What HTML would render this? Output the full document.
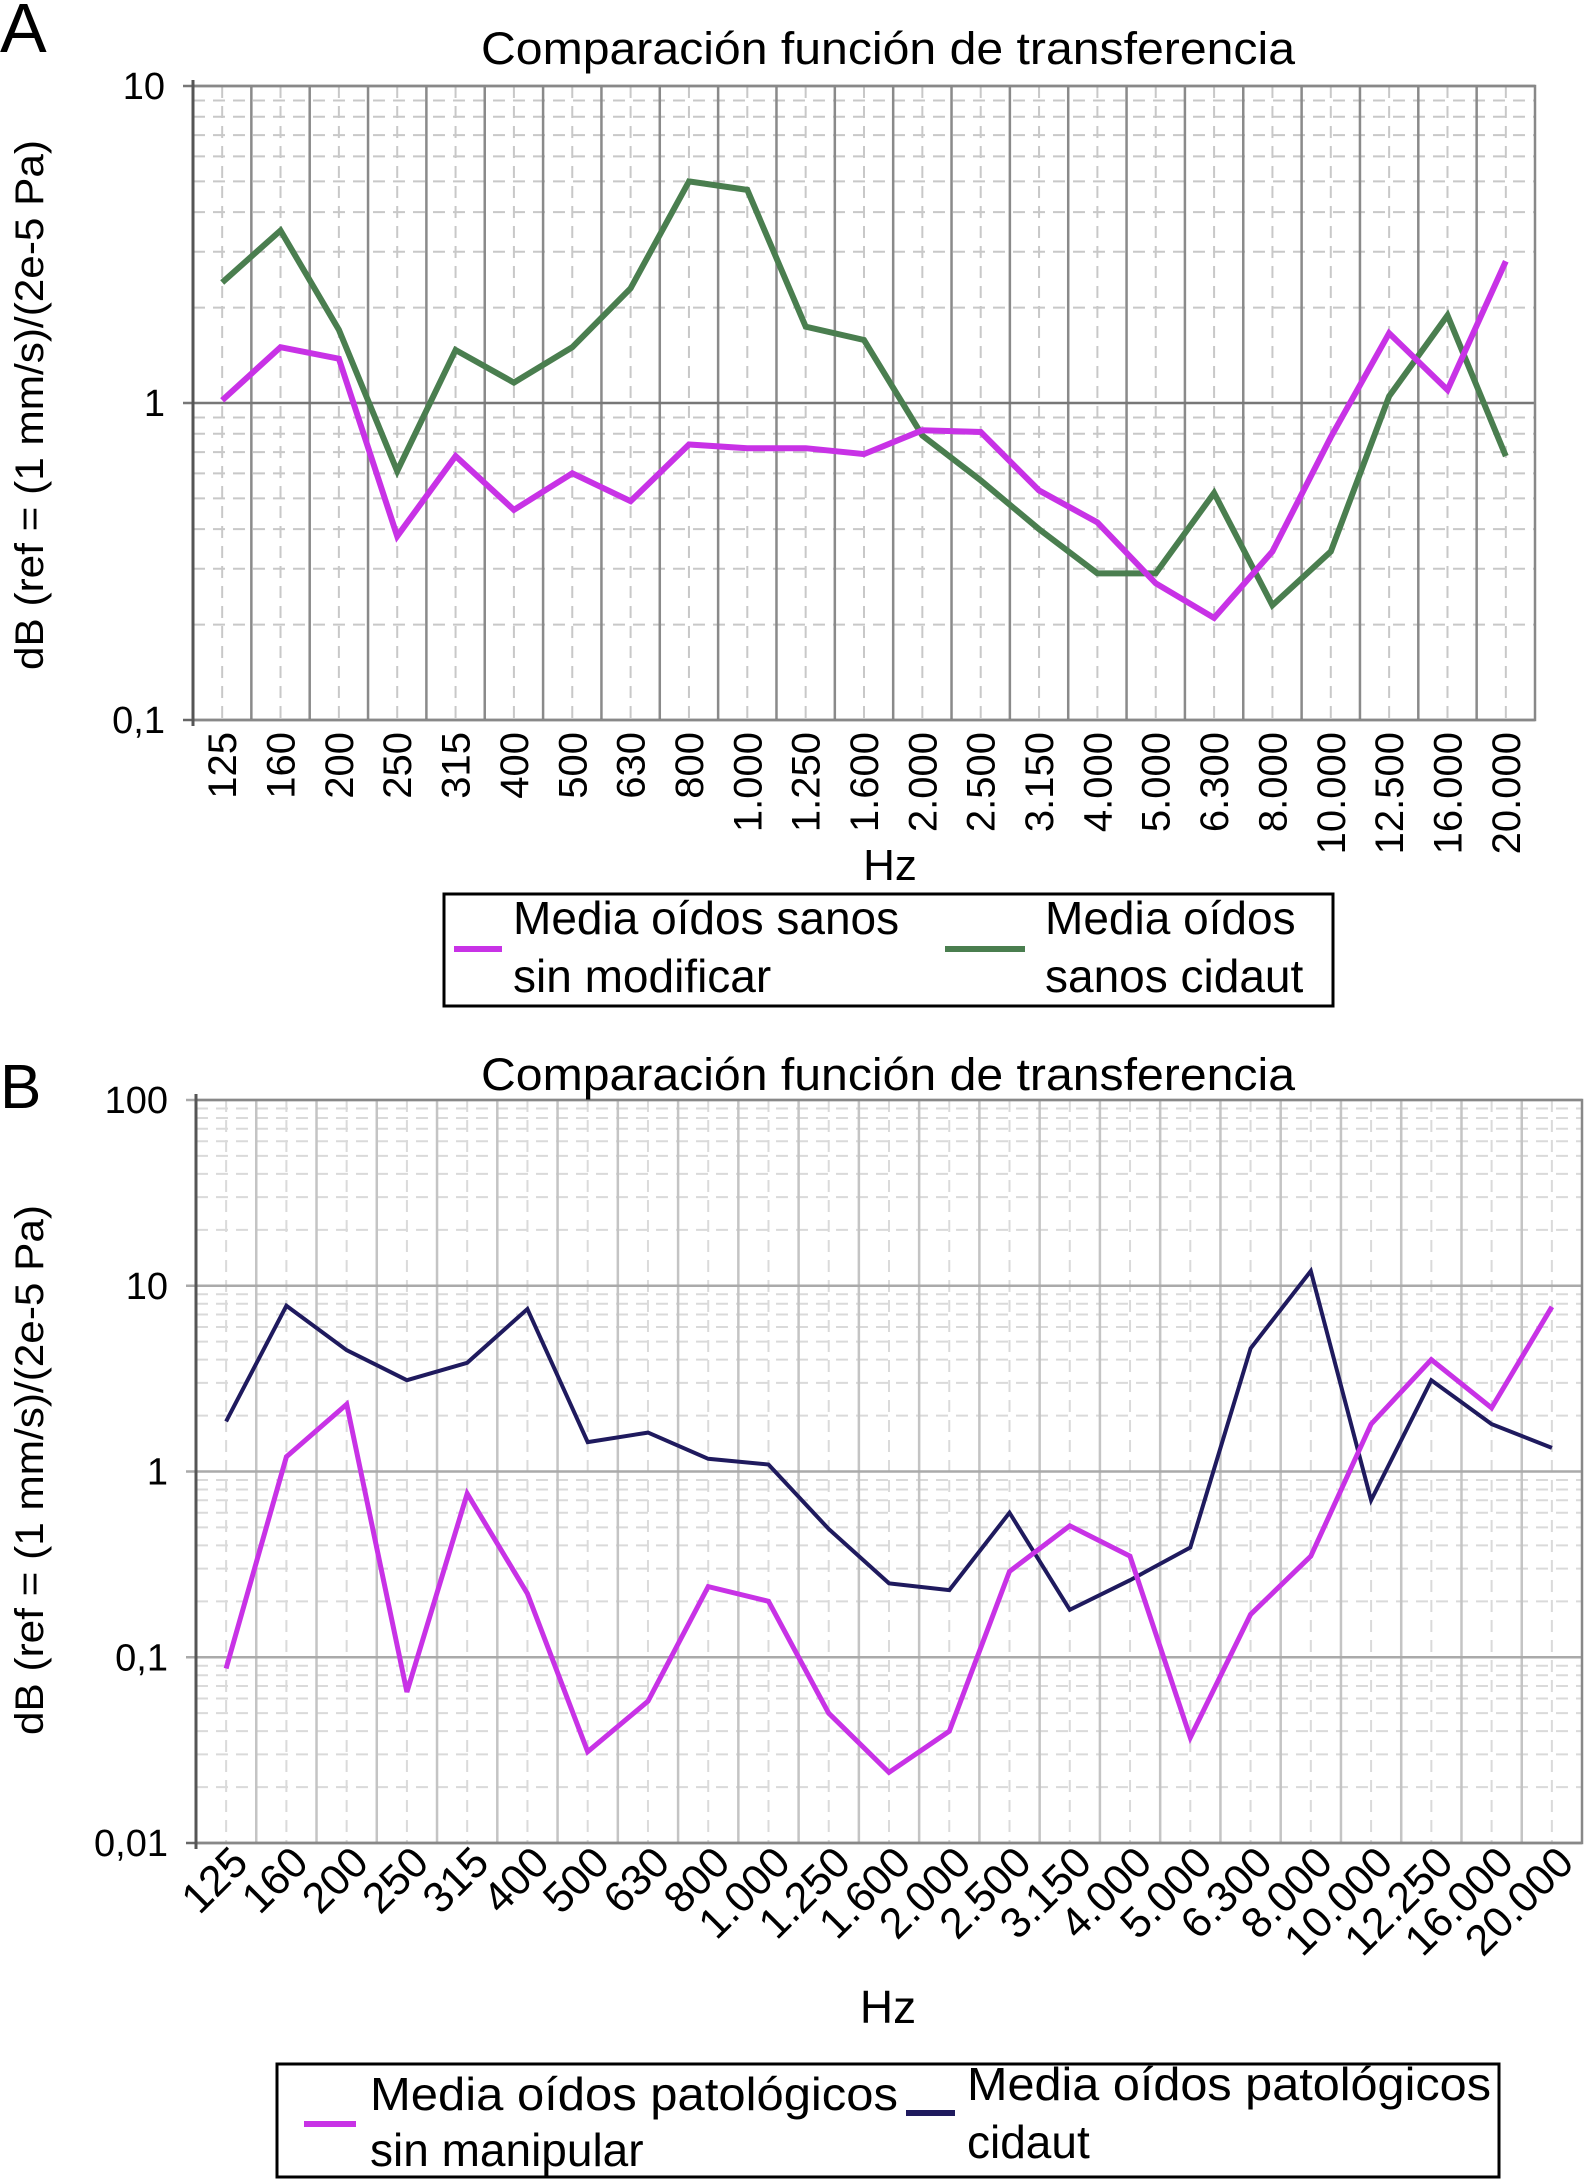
<!DOCTYPE html>
<html><head><meta charset="utf-8"><style>
html,body{margin:0;padding:0;background:#fff;}
svg{display:block;font-family:"Liberation Sans",sans-serif;}
</style></head><body>
<svg id="fig" width="1591" height="2180" viewBox="0 0 1591 2180" xmlns="http://www.w3.org/2000/svg">
<g id="chartA"></g>
<g id="chartB"></g>
</svg>
<script>
const catsA = ["125","160","200","250","315","400","500","630","800","1.000","1.250","1.600","2.000","2.500","3.150","4.000","5.000","6.300","8.000","10.000","12.500","16.000","20.000"];
const sanosSinMod = [1.02,1.5,1.38,0.38,0.68,0.46,0.6,0.49,0.74,0.72,0.72,0.69,0.82,0.81,0.53,0.42,0.27,0.21,0.34,0.78,1.66,1.1,2.8];
const sanosCidaut = [2.4,3.5,1.7,0.61,1.47,1.16,1.5,2.3,5.0,4.7,1.74,1.58,0.79,0.57,0.4,0.29,0.29,0.52,0.23,0.34,1.05,1.89,0.68];
const yTicksA = [0.1,1,10];
const yTickLabelsA = ["0,1","1","10"];
const catsB = ["125","160","200","250","315","400","500","630","800","1.000","1.250","1.600","2.000","2.500","3.150","4.000","5.000","6.300","8.000","10.000","12.250","16.000","20.000"];
const patSinMan = [0.087,1.2,2.3,0.065,0.76,0.22,0.031,0.058,0.24,0.2,0.05,0.024,0.04,0.29,0.51,0.35,0.037,0.17,0.35,1.8,4.0,2.2,7.7];
const patCidaut = [1.86,7.8,4.5,3.1,3.85,7.5,1.44,1.62,1.17,1.09,0.49,0.25,0.23,0.6,0.18,0.26,0.39,4.6,12,0.7,3.1,1.8,1.34];
const yTicksB = [0.01,0.1,1,10,100];
const yTickLabelsB = ["0,01","0,1","1","10","100"];

const NS="http://www.w3.org/2000/svg";
function el(parent,tag,attrs,text){const e=document.createElementNS(NS,tag);for(const k in attrs)e.setAttribute(k,attrs[k]);if(text!==undefined)e.textContent=text;parent.appendChild(e);return e;}

function drawChart(g,cfg){
  const n=cfg.cats.length;
  const L=cfg.left,R=cfg.right,T=cfg.top,B=cfg.bottom;
  const w=(R-L)/n;
  const lmin=Math.log10(cfg.ymin),lmax=Math.log10(cfg.ymax);
  const xs=i=>L+(i+0.5)*w;
  const ys=v=>B-(Math.log10(v)-lmin)/(lmax-lmin)*(B-T);
  const grid=el(g,'g',{});
  
  
  for(let d=lmin;d<lmax;d++){
    for(let m=2;m<=9;m++){
      const y=ys(m*Math.pow(10,d));
      el(grid,'line',{x1:L,x2:R,y1:y,y2:y,stroke:cfg.minorCol,'stroke-width':2,'stroke-dasharray':'12,8'});
    }
  }
  for(let i=0;i<n;i++){el(grid,'line',{x1:xs(i),x2:xs(i),y1:T,y2:B,stroke:cfg.minorCol,'stroke-width':2,'stroke-dasharray':'12,8'});}
  for(let i=1;i<n;i++){const x=L+i*w;el(grid,'line',{x1:x,x2:x,y1:T,y2:B,stroke:cfg.majorCol,'stroke-width':2.5});}
  cfg.yticks.forEach((v,i)=>{const y=ys(v);
    el(grid,'line',{x1:L-10,x2:R,y1:y,y2:y,stroke:(i===0?'#666':cfg.decCol),'stroke-width':2.5});
    const t=el(g,'text',{x:L-28,y:y+13,'font-size':cfg.yFs,'text-anchor':'end',fill:'#000'},cfg.ylabels[i]);
    
    
  });
  el(grid,'rect',{x:L,y:T,width:R-L,height:B-T,fill:'none',stroke:'#888','stroke-width':2.5});
  el(grid,'line',{x1:L,x2:L,y1:T-6,y2:B+6,stroke:'#555','stroke-width':3});
  cfg.cats.forEach((c,i)=>{
    const x=xs(i);
    let t;
    if(cfg.rot===-90){t=el(g,'text',{x:0,y:0,transform:`translate(${x+14},${B+12}) rotate(-90)`,'font-size':cfg.tickFs,'text-anchor':'end'},c);}
    else{t=el(g,'text',{x:0,y:0,transform:`translate(${x+24},${B+22}) rotate(-45)`,'font-size':cfg.tickFs,'text-anchor':'end'},c);}
    
    
  });
  cfg.series.forEach(s=>{
    const pts=s.vals.map((v,i)=>xs(i).toFixed(1)+','+ys(v).toFixed(1)).join(' ');
    const p=el(g,'polyline',{points:pts,fill:'none',stroke:s.col,'stroke-width':s.sw,'stroke-linejoin':'miter'});
    
    
  });
}

const gA=document.getElementById('chartA');
drawChart(gA,{cats:catsA,left:193,right:1535,top:86,bottom:720,ymin:0.1,ymax:10,yticks:yTicksA,ylabels:yTickLabelsA,rot:-90,tickFs:40,yFs:38,minorCol:'#c8c8c8',majorCol:'#8a8a8a',decCol:'#777',
  series:[{vals:sanosCidaut,col:'#4a7e4f',sw:6,name:'line-sanos-cidaut'},{vals:sanosSinMod,col:'#c832e6',sw:6,name:'line-sanos-sin-modificar'}]});
const gB=document.getElementById('chartB');
drawChart(gB,{cats:catsB,left:196,right:1582,top:1100,bottom:1843,ymin:0.01,ymax:100,yticks:yTicksB,ylabels:yTickLabelsB,rot:-45,tickFs:43,yFs:38,minorCol:'#dadada',majorCol:'#c4c4c4',decCol:'#aaa',
  series:[{vals:patCidaut,col:'#1f1a5e',sw:4,name:'line-patologicos-cidaut'},{vals:patSinMan,col:'#c832e6',sw:5,name:'line-patologicos-sin-manipular'}]});
</script>
<svg width="1591" height="2180" style="position:absolute;left:0;top:0;font-family:'Liberation Sans',sans-serif" xmlns="http://www.w3.org/2000/svg">
  <text x="0" y="52" font-size="70">A</text>
  <text x="481" y="64" font-size="45" textLength="814" lengthAdjust="spacingAndGlyphs">Comparación función de transferencia</text>
  <text transform="translate(43,405) rotate(-90)" font-size="40" text-anchor="middle" textLength="530" lengthAdjust="spacingAndGlyphs">dB (ref = (1 mm/s)/(2e-5 Pa)</text>
  <text x="890" y="880" font-size="44" text-anchor="middle">Hz</text>
  <g>
    <rect x="444" y="894" width="889" height="112" fill="none" stroke="#000" stroke-width="3"/>
    <line x1="454" x2="502" y1="949" y2="949" stroke="#c832e6" stroke-width="6"/>
    <text x="513" y="934" font-size="46">Media oídos sanos</text>
    <text x="513" y="992" font-size="46">sin modificar</text>
    <line x1="945" x2="1025" y1="949" y2="949" stroke="#4a7e4f" stroke-width="6"/>
    <text x="1045" y="934" font-size="46">Media oídos</text>
    <text x="1045" y="992" font-size="46">sanos cidaut</text>
  </g>
  <text x="0" y="1108" font-size="62">B</text>
  <text x="481" y="1090" font-size="45" textLength="814" lengthAdjust="spacingAndGlyphs">Comparación función de transferencia</text>
  <text transform="translate(43,1470) rotate(-90)" font-size="40" text-anchor="middle" textLength="530" lengthAdjust="spacingAndGlyphs">dB (ref = (1 mm/s)/(2e-5 Pa)</text>
  <text x="888" y="2023" font-size="46" text-anchor="middle">Hz</text>
  <g>
    <rect x="277" y="2064" width="1222" height="113" fill="none" stroke="#000" stroke-width="3"/>
    <line x1="304" x2="356" y1="2124" y2="2124" stroke="#c832e6" stroke-width="6"/>
    <text x="370" y="2110" font-size="46" textLength="528" lengthAdjust="spacingAndGlyphs">Media oídos patológicos</text>
    <text x="370" y="2166" font-size="46">sin manipular</text>
    <line x1="906" x2="955" y1="2113" y2="2113" stroke="#1f1a5e" stroke-width="6"/>
    <text x="967" y="2100" font-size="46" textLength="524" lengthAdjust="spacingAndGlyphs">Media oídos patológicos</text>
    <text x="967" y="2158" font-size="46">cidaut</text>
  </g>
</svg>
</body></html>
